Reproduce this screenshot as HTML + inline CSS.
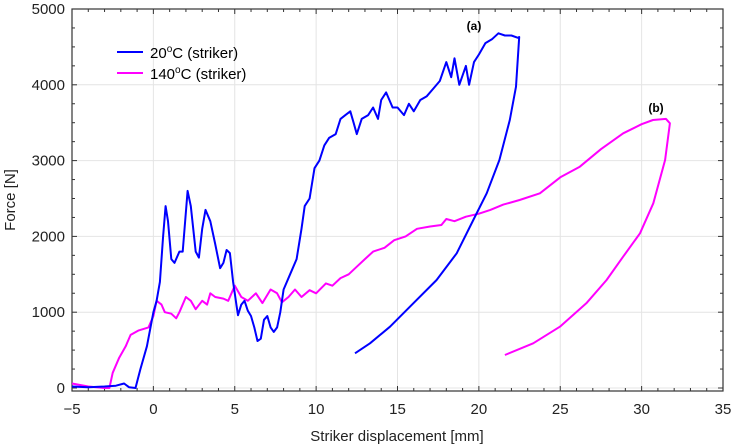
<!DOCTYPE html>
<html><head><meta charset="utf-8"><style>
body{margin:0;background:#fff}
svg{display:block;font-family:"Liberation Sans",Arial,sans-serif}
</style></head><body>
<svg id="chart" width="734" height="447" viewBox="0 0 734 447">
<g id="grid"></g>
<g id="axes"></g>
<g id="series"></g>
<text x="474" y="30" font-size="12" font-weight="bold" text-anchor="middle">(a)</text>
<text x="656" y="112" font-size="12" font-weight="bold" text-anchor="middle">(b)</text>
<g>
<line x1="117" y1="52" x2="143" y2="52" stroke="#0000ff" stroke-width="2"/>
<text x="150" y="58" font-size="15">20<tspan font-size="10" dy="-6">o</tspan><tspan dy="6">C (striker)</tspan></text>
<line x1="117" y1="73" x2="143" y2="73" stroke="#ff00ff" stroke-width="2"/>
<text x="150" y="79" font-size="15">140<tspan font-size="10" dy="-6">o</tspan><tspan dy="6">C (striker)</tspan></text>
</g>
<text x="397" y="441" font-size="15" text-anchor="middle" fill="#222">Striker displacement [mm]</text>
<text transform="translate(15,200) rotate(-90)" font-size="15" text-anchor="middle" fill="#222">Force [N]</text>
</svg>
<script>
const xTicks=[-5,0,5,10,15,20,25,30,35];
const yTicks=[0,1000,2000,3000,4000,5000];
const blueX=[-5,-4,-3,-2.3,-1.8,-1.5,-1.1,-0.8,-0.4,0,0.2,0.4,0.6,0.75,0.9,1.1,1.3,1.6,1.8,2.1,2.3,2.6,2.8,3.0,3.2,3.5,3.8,4.1,4.3,4.5,4.7,4.9,5.1,5.2,5.4,5.6,5.8,6.0,6.2,6.4,6.6,6.8,7.0,7.2,7.4,7.6,7.8,8.0,8.4,8.8,9.1,9.3,9.6,9.9,10.2,10.5,10.8,11.2,11.5,11.8,12.1,12.3,12.5,12.8,13.2,13.5,13.8,14.0,14.3,14.7,15.0,15.4,15.7,16.0,16.4,16.8,17.2,17.6,18.0,18.3,18.5,18.8,19.2,19.4,19.7,20.0,20.4,20.8,21.2,21.6,22.0,22.4,22.48,22.28,21.9,21.26,20.48,19.66,18.64,17.4,15.97,14.54,13.31,12.39];
const blueY=[20,10,20,30,60,10,0,250,550,1000,1150,1400,2000,2400,2200,1700,1650,1800,1800,2600,2400,1800,1720,2100,2350,2200,1900,1580,1650,1820,1780,1400,1100,960,1100,1150,1020,950,800,620,650,900,950,800,740,800,1000,1300,1500,1700,2100,2400,2500,2900,3000,3200,3300,3350,3550,3600,3650,3500,3350,3550,3600,3700,3550,3800,3900,3700,3700,3600,3750,3650,3800,3850,3950,4050,4300,4100,4350,4000,4250,4000,4300,4400,4550,4600,4680,4650,4650,4620,4630,3975,3536,3008,2568,2216,1777,1425,1117,809,590,458];
const pinkX=[-5,-4,-3,-2.7,-2.5,-2.1,-1.7,-1.4,-0.9,-0.3,0,0.2,0.5,0.7,1.1,1.4,1.6,2.0,2.3,2.6,3.0,3.3,3.5,3.8,4.3,4.6,5.0,5.4,5.8,6.3,6.7,7.2,7.6,7.9,8.3,8.7,9.1,9.6,10.0,10.6,11.0,11.5,12.0,12.5,13.0,13.5,14.2,14.8,15.5,16.2,17,17.7,18,18.5,19.2,20,20.7,21.5,22.5,23.75,25,26.2,27.5,28.87,30,30.7,31.5,31.74,31.44,30.72,29.9,28.87,27.85,26.6,24.98,23.34,21.6];
const pinkY=[60,20,0,0,200,400,550,700,760,800,950,1150,1100,1000,980,920,1000,1200,1150,1040,1150,1100,1250,1200,1180,1150,1350,1200,1150,1250,1120,1300,1250,1130,1200,1300,1200,1290,1250,1380,1350,1450,1500,1600,1700,1800,1850,1950,2000,2100,2130,2150,2230,2200,2260,2300,2350,2420,2480,2568,2780,2920,3150,3360,3480,3536,3550,3492,3008,2437,2041,1733,1425,1117,809,590,435];
const L=72,R=723,T=9,B=391,Y0=388;
const sx=v=>L+(v+5)*(R-L)/40;
const sy=v=>Y0-v*(Y0-T)/5000;
const NS='http://www.w3.org/2000/svg';
function mk(tag,attrs,parent){const e=document.createElementNS(NS,tag);for(const k in attrs)e.setAttribute(k,attrs[k]);parent.appendChild(e);return e;}
const grid=document.getElementById('grid'),axes=document.getElementById('axes'),series=document.getElementById('series');
xTicks.forEach(t=>{
  const g=mk('line',{x1:sx(t),x2:sx(t),y1:T,y2:B,stroke:'#e4e4e4','stroke-width':1},grid);
  
  
  const tx=mk('text',{x:sx(t),y:414,'font-size':15,'text-anchor':'middle',fill:'#222'},axes);
  tx.textContent=t<0?'\u2212'+(-t):t;
  
  
});
yTicks.forEach(t=>{
  const g=mk('line',{x1:L,x2:R,y1:sy(t),y2:sy(t),stroke:'#e4e4e4','stroke-width':1},grid);
  
  
  const tx=mk('text',{x:65,y:sy(t)+5,'font-size':15,'text-anchor':'end',fill:'#222'},axes);
  tx.textContent=t;
  
  
});
for(let v=-5;v<=35;v++){const len=v%5===0?5:3;
  mk('line',{x1:sx(v),x2:sx(v),y1:B,y2:B-len,stroke:'#333'},axes);
  mk('line',{x1:sx(v),x2:sx(v),y1:T,y2:T+len,stroke:'#333'},axes);}
for(let v=0;v<=5000;v+=250){const len=v%1000===0?5:3;
  mk('line',{x1:L,x2:L+len,y1:sy(v),y2:sy(v),stroke:'#333'},axes);
  mk('line',{x1:R,x2:R-len,y1:sy(v),y2:sy(v),stroke:'#333'},axes);}
const fr=mk('rect',{x:L,y:T,width:R-L,height:B-T,fill:'none',stroke:'#333','stroke-width':1.2},axes);


function path(xs,ys,col,name){
  const d=xs.map((x,i)=>(i?'L':'M')+sx(x).toFixed(1)+' '+sy(ys[i]).toFixed(1)).join(' ');
  const p=mk('path',{d:d,fill:'none',stroke:col,'stroke-width':2,'stroke-linejoin':'round'},series);
  
  
}
path(pinkX,pinkY,'#ff00ff','series-140c');
path(blueX,blueY,'#0000ff','series-20c');
</script>
</body></html>
